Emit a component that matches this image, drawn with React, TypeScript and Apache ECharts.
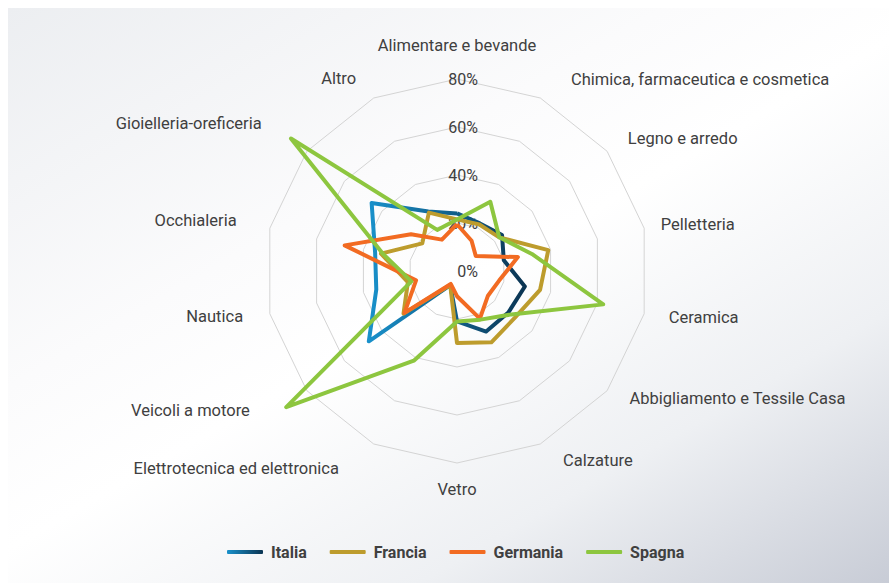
import React, { useEffect, useRef } from 'react';
import * as echarts from 'echarts';

const categories = [
  'Alimentare e bevande',
  'Chimica, farmaceutica e cosmetica',
  'Legno e arredo',
  'Pelletteria',
  'Ceramica',
  'Abbigliamento e Tessile Casa',
  'Calzature',
  'Vetro',
  'Elettrotecnica ed elettronica',
  'Veicoli a motore',
  'Nautica',
  'Occhialeria',
  'Gioielleria-oreficeria',
  'Altro',
];

const seriesNames = ['Italia', 'Francia', 'Germania', 'Spagna'];

const italia = [24, 22, 24, 20, 29, 27.5, 28, 21, 6.5, 47, 34.5, 35, 45.5, 27.5];
const francia = [21.5, 21.5, 22.5, 39, 35.5, 31, 33, 30, 6.5, 28.5, 21, 32.5, 18.5, 27];
const germania = [19.5, 14, 10, 26, 18, 16.5, 22, 10.5, 6, 28, 17.5, 48, 24.5, 14.5];
const spagna = [21.5, 32, 22.5, 32, 62.5, 29, 22.5, 21, 41.5, 91, 19.5, 31.5, 88.5, 19];

const axisMin = 0;
const axisMax = 80;
const axisSplits = 4;

export default function App() {
  const ref = useRef<HTMLDivElement>(null);

  useEffect(() => {
    if (!ref.current) return;
    const chart = echarts.init(ref.current, null, { renderer: 'svg' });

    // ECharts lays radar indicators counter-clockwise; the reference runs clockwise.
    const order = [0, 13, 12, 11, 10, 9, 8, 7, 6, 5, 4, 3, 2, 1];
    const nameGaps = [25, 20, 20, 17, 17, 12, 18, 18, 27, 32, 12, 34, 45, 22];
    const namePads = [0, 22, 5, 0, 8, 13, 15, 0, 23, 32, 15, 0, 10, 8];

    const indicator = order.map((i) => {
      const pad = namePads[i];
      let padding: number[] = [0, 0, 0, 0];
      if (i >= 1 && i <= 6) padding = [0, 0, 0, pad];
      else if (i >= 8) padding = [0, pad, 0, 0];
      return {
        name: categories[i],
        min: axisMin,
        max: axisMax,
        nameGap: nameGaps[i],
        nameTextStyle: { padding },
        axisLabel: { show: i === 0 },
      };
    });

    const reorder = (arr: number[]) => order.map((i) => arr[i]);

    const italiaGrad = new echarts.graphic.LinearGradient(0, 0, 1, 0, [
      { offset: 0, color: '#1991cb' },
      { offset: 1, color: '#0b3452' },
    ]);

    const colors: any[] = [italiaGrad, '#bd9c2d', '#f26b22', '#8dc63f'];
    const values = [italia, francia, germania, spagna];

    chart.setOption({
      animation: false,
      textStyle: { fontFamily: 'Roboto' },
      legend: {
        data: seriesNames,
        left: 214,
        top: 531,
        icon: 'roundRect',
        itemWidth: 36,
        itemHeight: 4,
        itemGap: 23,
        textStyle: {
          fontFamily: 'Roboto',
          fontSize: 16,
          fontWeight: 'bold',
          color: '#404040',
          padding: [0, 0, 0, 3],
        },
      },
      radar: {
        center: [449, 263],
        radius: 192,
        shape: 'polygon',
        splitNumber: axisSplits,
        startAngle: 90,
        indicator,
        axisName: {
          color: '#404040',
          fontFamily: 'Roboto',
          fontSize: 16.5,
        },
        axisLine: { show: false },
        axisTick: { show: false },
        splitArea: { show: false },
        splitLine: { lineStyle: { color: '#d4d4d4', width: 1 } },
        axisLabel: {
          show: false,
          formatter: '{value}%',
          color: '#404040',
          fontFamily: 'Roboto',
          fontSize: 16,
          margin: -21,
        },
      },
      series: seriesNames.map((name, k) => ({
        type: 'radar',
        name,
        symbol: 'none',
        lineStyle: { width: 4, color: colors[k], join: 'round' },
        itemStyle: { color: colors[k] },
        z: 2 + k,
        data: [{ name, value: reorder(values[k]) }],
      })),
    });

    return () => chart.dispose();
  }, []);

  return (
    <div
      ref={ref}
      style={{
        position: 'absolute',
        left: 8,
        top: 8,
        width: 881,
        height: 575,
        background:
          'linear-gradient(150deg, #eceef1 0%, #fbfbfc 35%, #ffffff 50%, #eef0f3 75%, #c8ccd6 100%)',
      }}
    />
  );
}
